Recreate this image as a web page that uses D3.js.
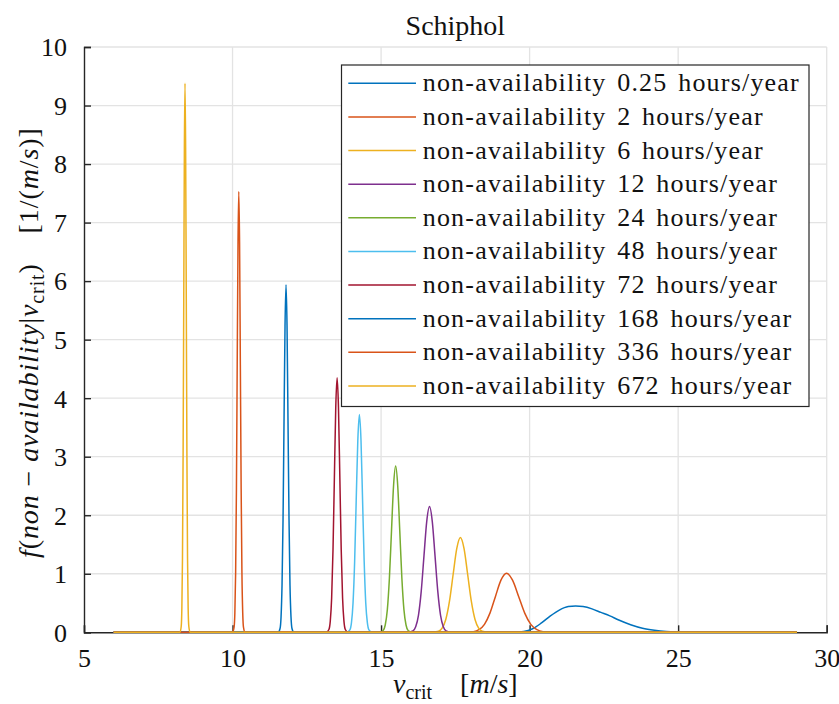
<!DOCTYPE html>
<html>
<head>
<meta charset="utf-8">
<script src="https://cdn.jsdelivr.net/npm/d3@7"></script>
</head>
<body style="margin:0">
<svg id="chart" width="839" height="704"></svg>
<script>
// Conditional density of non-availability given the critical wind speed, Schiphol
const titleText = "Schiphol";
const hoursPerYear = [0.25, 2, 6, 12, 24, 48, 72, 168, 336, 672];
const xTicks = [5, 10, 15, 20, 25, 30];
const yTicks = [0, 1, 2, 3, 4, 5, 6, 7, 8, 9, 10];

// v_crit samples [m/s] for each curve (same order as hoursPerYear)
const vCrit = [
  [6, 19.5, 19.8, 20.1, 20.4, 20.7, 21.0, 21.3, 21.55, 21.8, 22.1, 22.4, 22.7, 23.0, 23.4, 23.8, 24.2, 24.6, 25.0, 25.5, 29],
  [6, 17.74, 18.11, 18.295, 18.48, 18.665, 18.85, 19.035, 19.22, 19.425, 19.63, 19.835, 20.04, 20.245, 20.45, 20.86, 29],
  [6, 16.686, 16.932, 17.055, 17.178, 17.301, 17.424, 17.547, 17.67, 17.793, 17.916, 18.039, 18.162, 18.285, 18.408, 18.654, 29],
  [6, 15.886, 16.072, 16.165, 16.258, 16.351, 16.444, 16.537, 16.63, 16.723, 16.816, 16.909, 17.002, 17.095, 17.188, 17.374, 29],
  [6, 14.93, 15.07, 15.14, 15.21, 15.28, 15.35, 15.42, 15.49, 15.56, 15.63, 15.70, 15.77, 15.84, 15.91, 16.05, 29],
  [6, 13.842, 13.949, 14.003, 14.056, 14.110, 14.163, 14.217, 14.27, 14.324, 14.377, 14.431, 14.484, 14.538, 14.591, 14.698, 29],
  [6, 13.152, 13.244, 13.29, 13.336, 13.382, 13.428, 13.474, 13.52, 13.566, 13.612, 13.658, 13.704, 13.75, 13.796, 13.888, 29],
  [6, 11.532, 11.599, 11.633, 11.666, 11.700, 11.733, 11.767, 11.80, 11.834, 11.867, 11.901, 11.934, 11.968, 12.001, 12.068, 29],
  [6, 9.998, 10.051, 10.078, 10.104, 10.131, 10.157, 10.184, 10.21, 10.237, 10.263, 10.290, 10.316, 10.343, 10.369, 10.422, 29],
  [6, 8.230, 8.273, 8.294, 8.315, 8.336, 8.358, 8.379, 8.40, 8.421, 8.443, 8.464, 8.485, 8.506, 8.528, 8.570, 29]
];

// f(non-availability | v_crit) [1/(m/s)] at those samples
const density = [
  [0, 0, 0.012, 0.06, 0.16, 0.28, 0.38, 0.44, 0.45, 0.44, 0.40, 0.34, 0.28, 0.21, 0.13, 0.07, 0.035, 0.013, 0.004, 0, 0],
  [0, 0, 0.011, 0.044, 0.136, 0.328, 0.613, 0.891, 1.01, 0.891, 0.613, 0.328, 0.136, 0.044, 0.011, 0, 0],
  [0, 0, 0.018, 0.071, 0.219, 0.527, 0.983, 1.429, 1.62, 1.429, 0.983, 0.527, 0.219, 0.071, 0.018, 0, 0],
  [0, 0, 0.024, 0.095, 0.290, 0.699, 1.305, 1.896, 2.15, 1.896, 1.305, 0.699, 0.290, 0.095, 0.024, 0, 0],
  [0, 0, 0.031, 0.125, 0.383, 0.923, 1.724, 2.505, 2.84, 2.505, 1.724, 0.923, 0.383, 0.125, 0.031, 0, 0],
  [0, 0, 0.041, 0.164, 0.502, 1.209, 2.258, 3.281, 3.72, 3.281, 2.258, 1.209, 0.502, 0.164, 0.041, 0, 0],
  [0, 0, 0.048, 0.191, 0.587, 1.414, 2.640, 3.837, 4.35, 3.837, 2.640, 1.414, 0.587, 0.191, 0.048, 0, 0],
  [0, 0, 0.065, 0.261, 0.802, 1.931, 3.606, 5.239, 5.94, 5.239, 3.606, 1.931, 0.802, 0.261, 0.065, 0, 0],
  [0, 0, 0.083, 0.331, 1.017, 2.447, 4.571, 6.641, 7.53, 6.641, 4.571, 2.447, 1.017, 0.331, 0.083, 0, 0],
  [0, 0, 0.103, 0.413, 1.266, 3.049, 5.694, 8.273, 9.38, 8.273, 5.694, 3.049, 1.266, 0.413, 0.103, 0, 0]
];

// MATLAB default line colour order
const palette = ["#0072BD", "#D95319", "#EDB120", "#7E2F8E", "#77AC30", "#4DBEEE", "#A2142F"];

const FONT_CSS = "font-family: 'Liberation Serif', serif";

const svg = d3.select("#chart");
const W = 839, H = 704;
const margin = { left: 84, right: W - 826.7, top: 47, bottom: H - 632.3 };

const x = d3.scaleLinear().domain([5, 30]).range([margin.left, W - margin.right]);
const y = d3.scaleLinear().domain([0, 10]).range([H - margin.bottom, margin.top]);

const axisColor = "#262626";
const gridColor = "#e3e3e3";
const textColor = "#111";

// grid
const grid = svg.append("g");
grid.selectAll("line.gx").data(xTicks.slice(1)).join("line")
  .attr("x1", d => x(d)).attr("x2", d => x(d))
  .attr("y1", y(0)).attr("y2", y(10))
  .attr("stroke", gridColor).attr("stroke-width", 1.3);
grid.selectAll("line.gy").data(yTicks.slice(1)).join("line")
  .attr("x1", x(5)).attr("x2", x(30))
  .attr("y1", d => y(d)).attr("y2", d => y(d))
  .attr("stroke", gridColor).attr("stroke-width", 1.3);

// axes (inward ticks, left and bottom only)
const tickLen = 7;
const xAxis = d3.axisBottom(x).tickValues(xTicks).tickSize(-tickLen).tickPadding(tickLen + 9).tickFormat(d3.format("d"));
const yAxis = d3.axisLeft(y).tickValues(yTicks).tickSize(-tickLen).tickPadding(tickLen + 10).tickFormat(d3.format("d"));

const gx = svg.append("g").attr("transform", `translate(0,${y(0)})`).call(xAxis);
const gy = svg.append("g").attr("transform", `translate(${x(5)},0)`).call(yAxis);
[gx, gy].forEach(g => {
  g.attr("font-family", null).attr("font-size", 26);
  g.select(".domain").attr("stroke", axisColor).attr("stroke-width", 1.4);
  g.selectAll(".tick line").attr("stroke", axisColor).attr("stroke-width", 1.4);
  g.selectAll(".tick text").attr("fill", textColor).attr("style", FONT_CSS);
});
gy.selectAll(".tick text").attr("dy", "0.34em");

// curves
const line = d3.line()
  .x(d => x(d[0]))
  .y(d => y(d[1]))
  .curve(d3.curveMonotoneX);

const curves = svg.append("g");
hoursPerYear.forEach((h, i) => {
  const pts = vCrit[i].map((v, j) => [v, density[i][j]]);
  curves.append("path")
    .datum(pts)
    .attr("d", line)
    .attr("fill", "none")
    .attr("stroke", palette[i % palette.length])
    .attr("stroke-width", 1.5)
    .attr("stroke-linejoin", "round");
});

// title
svg.append("text")
  .attr("x", (x(5) + x(30)) / 2)
  .attr("y", 35)
  .attr("text-anchor", "middle")
  .attr("fill", textColor)
  .attr("style", FONT_CSS)
  .attr("font-size", 28)
  .text(titleText);

// x label: v_crit [m/s]
const xl = svg.append("text")
  .attr("x", (x(5) + x(30)) / 2)
  .attr("y", 693)
  .attr("text-anchor", "middle")
  .attr("fill", textColor)
  .attr("style", FONT_CSS)
  .attr("font-size", 28);
xl.append("tspan").attr("font-style", "italic").text("v");
xl.append("tspan").attr("dy", 6).attr("font-size", 20).text("crit");
xl.append("tspan").attr("dy", -6).text("\u2002\u2002[");
xl.append("tspan").attr("font-style", "italic").text("m");
xl.append("tspan").text("/");
xl.append("tspan").attr("font-style", "italic").text("s");
xl.append("tspan").text("]");

// y label: f(non − availability | v_crit) [1/(m/s)]
const yl = svg.append("text")
  .attr("transform", `translate(38,${(y(0) + y(10)) / 2 + 3}) rotate(-90)`)
  .attr("text-anchor", "middle")
  .attr("fill", textColor)
  .attr("style", FONT_CSS)
  .attr("font-size", 28)
  .attr("letter-spacing", 0.9);
yl.append("tspan").attr("font-style", "italic").text("f");
yl.append("tspan").text("(");
yl.append("tspan").attr("font-style", "italic").text("non");
yl.append("tspan").text(" \u2212 ");
yl.append("tspan").attr("font-style", "italic").text("availability");
yl.append("tspan").text("|");
yl.append("tspan").attr("font-style", "italic").text("v");
yl.append("tspan").attr("dy", 6).attr("font-size", 20).text("crit");
yl.append("tspan").attr("dy", -6).text(")\u2002\u2002[1/(");
yl.append("tspan").attr("font-style", "italic").text("m");
yl.append("tspan").text("/");
yl.append("tspan").attr("font-style", "italic").text("s");
yl.append("tspan").text(")]");

// legend
const legend = svg.append("g");
const lgX0 = 341.5, lgY0 = 65, lgX1 = 809, lgY1 = 406.5;
legend.append("rect")
  .attr("x", lgX0).attr("y", lgY0)
  .attr("width", lgX1 - lgX0).attr("height", lgY1 - lgY0)
  .attr("fill", "#fff").attr("stroke", axisColor).attr("stroke-width", 1.2);
const rowH = (386 - 83.3) / 9;
hoursPerYear.forEach((h, i) => {
  const cy = 83.3 + i * rowH;
  legend.append("line")
    .attr("x1", 348.3).attr("x2", 416)
    .attr("y1", cy).attr("y2", cy)
    .attr("stroke", palette[i % palette.length]).attr("stroke-width", 1.5);
  legend.append("text")
    .attr("x", 422.7).attr("y", cy + 8)
    .attr("fill", textColor)
    .attr("style", FONT_CSS)
    .attr("font-size", 26)
    .attr("letter-spacing", 1.2)
    .attr("word-spacing", 3)
    .text(`non-availability ${h} hours/year`);
});
</script>
</body>
</html>
